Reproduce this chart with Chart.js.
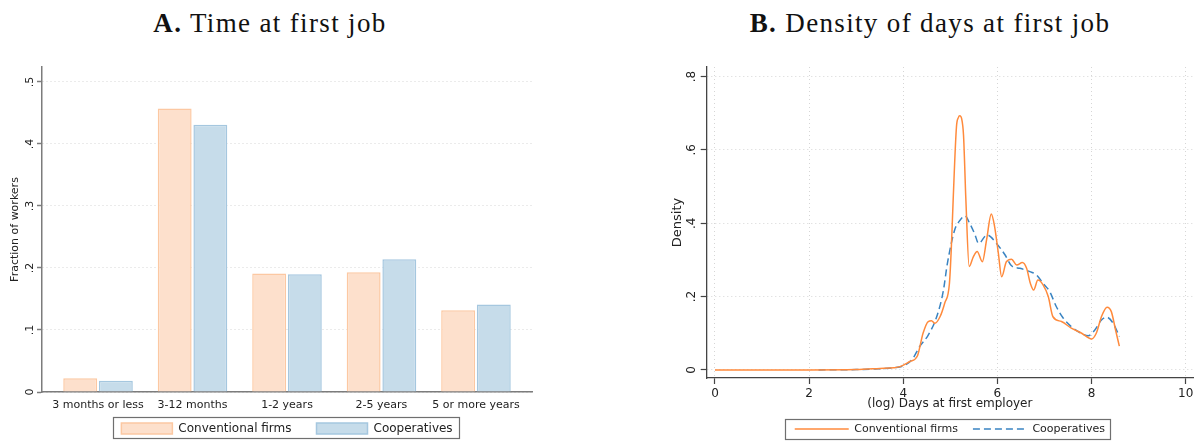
<!DOCTYPE html>
<html>
<head>
<meta charset="utf-8">
<script src="https://cdn.jsdelivr.net/npm/chart.js@4.4.1/dist/chart.umd.min.js"></script>
<style>
  html, body { margin: 0; padding: 0; background: #fff; width: 1197px; height: 441px; overflow: hidden; }
  .panel { position: absolute; top: 0; height: 462px; }
  #panelA { left: 0; width: 595px; }
  #panelB { left: 600px; width: 597px; }
  .ttl { position: absolute; top: 10px; font-family: "Liberation Serif", serif; font-size: 27px; line-height: 27px;
         letter-spacing: 1.35px; color: #111; white-space: nowrap; transform: translateX(-50%); }
  canvas { display: block; }
</style>
</head>
<body>
<div class="ttl" style="left:270px"><b>A.</b> Time at first job</div>
<div class="ttl" style="left:930px"><b>B.</b> Density of days at first job</div>
<div class="panel" id="panelA"><canvas id="barChart" width="595" height="462"></canvas></div>
<div class="panel" id="panelB"><canvas id="densityChart" width="597" height="450"></canvas></div>
<script>
// Panel A: share of workers by time spent at the first job
const categories = ['3 months or less', '3-12 months', '1-2 years', '2-5 years', '5 or more years'];
const conventionalShare = [0.022, 0.457, 0.191, 0.193, 0.132];
const cooperativeShare  = [0.018, 0.431, 0.190, 0.214, 0.141];

// Panel B: kernel density of (log) days at the first employer
const logDaysConventional = [0, 1, 2, 3, 3.5, 3.8, 3.93, 4.14, 4.3, 4.42, 4.53, 4.6, 4.67, 4.78, 4.88, 4.98,
  5.02, 5.06, 5.13, 5.17, 5.2, 5.24, 5.28, 5.33, 5.4, 5.49, 5.57, 5.68, 5.77, 5.87, 5.94,
  6.02, 6.09, 6.19, 6.3, 6.41, 6.53, 6.62, 6.7, 6.77, 6.86, 6.97, 7.08, 7.18, 7.36, 7.57, 7.79,
  8.0, 8.1, 8.21, 8.33, 8.42, 8.51, 8.59];
const densityConventional = [0, 0, 0, 0.001, 0.004, 0.006, 0.009, 0.023, 0.038, 0.1, 0.132, 0.134, 0.127, 0.145, 0.182, 0.235,
  0.33, 0.464, 0.663, 0.688, 0.693, 0.685, 0.64, 0.464, 0.282, 0.309, 0.323, 0.295, 0.355, 0.425, 0.391,
  0.318, 0.254, 0.295, 0.302, 0.286, 0.293, 0.277, 0.236, 0.218, 0.245, 0.232, 0.2, 0.145, 0.132, 0.114, 0.1,
  0.0845, 0.1, 0.145, 0.171, 0.159, 0.109, 0.065];
const logDaysCooperative = [2.2, 3, 3.5, 3.8, 4.0, 4.18, 4.35, 4.53, 4.71, 4.85, 4.93,
  5.02, 5.1, 5.17, 5.31, 5.41, 5.52, 5.6, 5.78, 5.98, 6.16, 6.3, 6.48, 6.69, 6.83, 6.97,
  7.11, 7.25, 7.4, 7.57, 7.75, 7.93, 8.07, 8.21, 8.32, 8.46, 8.59];
const densityCooperative = [0, 0.001, 0.003, 0.006, 0.011, 0.027, 0.064, 0.095, 0.145, 0.215, 0.285,
  0.345, 0.385, 0.402, 0.42, 0.4, 0.37, 0.345, 0.368, 0.345, 0.314, 0.284, 0.277, 0.268, 0.259, 0.236,
  0.214, 0.173, 0.141, 0.118, 0.102, 0.093, 0.109, 0.136, 0.144, 0.127, 0.091];

const seriesNames = ['Conventional firms', 'Cooperatives'];

Chart.defaults.font.family = '"DejaVu Sans", Verdana, sans-serif';
Chart.defaults.color = '#222';
Chart.defaults.animation = false;

// Stata-style numbers: ".5" instead of "0.5"
const stataNum = v => (Math.abs(v) < 1e-9 ? '0' : String(+v.toFixed(2)).replace(/^0\./, '.').replace(/^-0\./, '-.'));

// Moves the legend block vertically after layout (keeps wide item spacing with a tight vertical gap)
const legendShift = {
  id: 'legendShift',
  afterLayout(chart, args, o) {
    const lg = chart.legend;
    if (!lg || !o.dy) return;
    lg.top += o.dy;
    lg.bottom += o.dy;
  }
};

// Outline drawn around the legend entries
const legendFrame = {
  id: 'legendFrame',
  afterDraw(chart, args, o) {
    const boxes = chart.legend && chart.legend.legendHitBoxes;
    if (!boxes || !boxes.length) return;
    const first = boxes[0], last = boxes[boxes.length - 1];
    const x0 = first.left - o.left, x1 = last.left + last.width + o.right;
    const y0 = first.top - o.top, y1 = first.top + first.height + o.bottom;
    const ctx = chart.ctx;
    ctx.save();
    ctx.strokeStyle = o.color;
    ctx.lineWidth = o.width;
    ctx.strokeRect(Math.round(x0) + 0.5, Math.round(y0) + 0.5, Math.round(x1 - x0), Math.round(y1 - y0));
    ctx.restore();
  }
};

// Legend entries drawn as line samples that keep each dataset's dash pattern
const lineLegendLabels = chart => {
  const items = Chart.defaults.plugins.legend.labels.generateLabels(chart);
  items.forEach(item => {
    const ds = chart.data.datasets[item.datasetIndex];
    item.lineDash = ds.borderDash || [];
    item.lineWidth = ds.borderWidth;
    item.strokeStyle = ds.borderColor;
    item.pointStyle = 'line';
  });
  return items;
};

const gridDots = '#d6d6d6';

// ---------- Panel A ----------
new Chart(document.getElementById('barChart'), {
  type: 'bar',
  plugins: [legendShift, legendFrame],
  data: {
    datasets: [
      { label: seriesNames[0], data: conventionalShare.map((v, i) => ({ x: i + 1, y: v })),
        backgroundColor: '#fde0cc', borderColor: '#fcc8a2', borderWidth: 1.5 },
      { label: seriesNames[1], data: cooperativeShare.map((v, i) => ({ x: i + 1, y: v })),
        backgroundColor: '#c6dcea', borderColor: '#a5c7df', borderWidth: 1.5 }
    ]
  },
  options: {
    responsive: false,
    events: [],
    layout: { padding: { left: 0, right: 63, top: 67, bottom: 1 } },
    categoryPercentage: 0.755,
    barPercentage: 0.95,
    scales: {
      x: {
        type: 'linear', min: 0.407, max: 5.593, offset: false,
        afterFit: s => { s.height = 22; },
        afterBuildTicks: s => { s.ticks = categories.map((c, i) => ({ value: i + 1 })); },
        grid: { display: false, drawTicks: false, tickLength: 0, offset: false },
        border: { color: '#7c7c7c', width: 1.5 },
        ticks: { autoSkip: false, maxRotation: 0, padding: 6.4, font: { size: 11 }, color: '#222',
                 callback: v => categories[Math.round(v) - 1] }
      },
      y: {
        min: 0, max: 0.524,
        afterFit: s => { s.width = 42; },
        grid: { color: gridDots, lineWidth: 1, tickColor: '#7c7c7c', tickLength: 5, tickWidth: 1.5, tickBorderDash: [] },
        border: { color: '#7c7c7c', width: 1.5, dash: [1, 3] },
        ticks: { stepSize: 0.1, includeBounds: false, minRotation: 90, maxRotation: 90, crossAlign: 'center',
                 padding: 2, font: { size: 11 }, color: '#222', callback: v => stataNum(v) },
        title: { display: true, text: 'Fraction of workers', font: { size: 11 }, color: '#222', padding: { top: 8.4, bottom: 0 } }
      }
    },
    plugins: {
      tooltip: { enabled: false },
      legend: {
        position: 'bottom', fullSize: false,
        labels: { boxWidth: 51, boxHeight: 11, padding: 25, font: { size: 12 }, color: '#222' }
      },
      legendShift: { dy: -16.5 },
      legendFrame: { left: 8, right: 7, top: 5.5, bottom: 3.5, color: '#6f6f6f', width: 1.2 }
    }
  }
});

// ---------- Panel B ----------
new Chart(document.getElementById('densityChart'), {
  type: 'line',
  plugins: [legendFrame],
  data: {
    datasets: [
      { label: seriesNames[0], data: logDaysConventional.map((x, i) => ({ x, y: densityConventional[i] })),
        borderColor: '#ff8a3c', backgroundColor: '#ff8a3c', borderWidth: 1.5, pointRadius: 0,
        cubicInterpolationMode: 'monotone', fill: false },
      { label: seriesNames[1], data: logDaysCooperative.map((x, i) => ({ x, y: densityCooperative[i] })),
        borderColor: '#3a84c2', backgroundColor: '#3a84c2', borderWidth: 1.5, borderDash: [7, 4], pointRadius: 0,
        cubicInterpolationMode: 'monotone', fill: false }
    ]
  },
  options: {
    responsive: false,
    events: [],
    layout: { padding: { left: 0, right: 4, top: 67, bottom: 5.5 } },
    scales: {
      x: {
        type: 'linear', min: -0.176, max: 10.155,
        afterFit: s => { s.height = 30.5; },
        grid: { color: gridDots, lineWidth: 1, tickColor: '#444', tickLength: 6, tickWidth: 1.2, tickBorderDash: [] },
        border: { color: '#444', width: 1.3, dash: [1, 3] },
        ticks: { stepSize: 2, includeBounds: false, maxRotation: 0, padding: 3, font: { size: 12 }, color: '#222',
                 callback: v => stataNum(v) },
        title: { display: true, text: '(log) Days at first employer', font: { size: 12, lineHeight: 1 }, color: '#222',
                 padding: { top: 0, bottom: -1.5 } }
      },
      y: {
        min: -0.022, max: 0.826,
        afterFit: s => { s.width = 106.7; },
        grid: { color: gridDots, lineWidth: 1, tickColor: '#444', tickLength: 6, tickWidth: 1.2, tickBorderDash: [] },
        border: { color: '#444', width: 1.3, dash: [1, 3] },
        ticks: { stepSize: 0.2, includeBounds: false, minRotation: 90, maxRotation: 90, crossAlign: 'center',
                 padding: 3, font: { size: 12 }, color: '#222', callback: v => stataNum(v) },
        title: { display: true, text: 'Density', font: { size: 13 }, color: '#222', padding: { top: 70.2, bottom: 0 } }
      }
    },
    plugins: {
      tooltip: { enabled: false },
      legend: {
        position: 'bottom', fullSize: false,
        labels: { usePointStyle: true, pointStyleWidth: 54, padding: 15, font: { size: 11 }, color: '#222',
                  generateLabels: lineLegendLabels }
      },
      legendFrame: { left: 10, right: 5, top: 4.5, bottom: 4.5, color: '#6f6f6f', width: 1.2 }
    }
  }
});
</script>
</body>
</html>
